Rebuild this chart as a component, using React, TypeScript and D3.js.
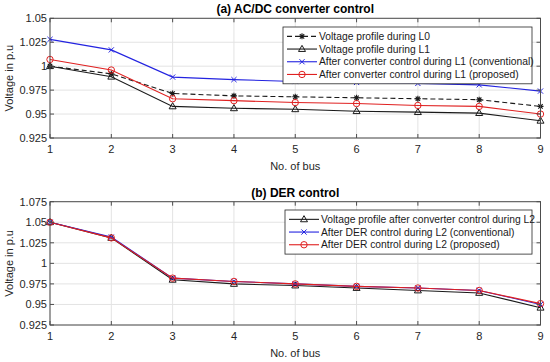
import React from 'react';
import * as d3 from 'd3';

const buses = [1, 2, 3, 4, 5, 6, 7, 8, 9];

// (a) AC/DC converter control
const l0 = [1.0, 0.992, 0.9715, 0.969, 0.968, 0.967, 0.966, 0.965, 0.958];
const l1 = [1.0, 0.989, 0.958, 0.956, 0.955, 0.953, 0.952, 0.951, 0.943];
const convConventional = [1.028, 1.017, 0.9886, 0.986, 0.984, 0.983, 0.982, 0.9805, 0.974];
const convProposed = [1.007, 0.996, 0.966, 0.964, 0.962, 0.961, 0.959, 0.958, 0.950];

// (b) DER control
const afterConverterL2 = [1.05, 1.031, 0.980, 0.975, 0.973, 0.970, 0.967, 0.964, 0.946];
const derConventional = [1.05, 1.032, 0.982, 0.978, 0.975, 0.972, 0.970, 0.967, 0.950];
const derProposed = [1.05, 1.031, 0.982, 0.978, 0.975, 0.972, 0.970, 0.967, 0.951];

const ticksA = [0.925, 0.95, 0.975, 1, 1.025, 1.05];
const ticksB = [0.925, 0.95, 0.975, 1, 1.025, 1.05, 1.075];

const FONT = '"Liberation Sans", Arial, Helvetica, sans-serif';
const tickFmt = (v: number) => String(+v.toFixed(3));

type Marker = 'star' | 'tri' | 'x' | 'o';
interface Series { name: string; values: number[]; color: string; dash?: string; marker: Marker; }

const seriesA: Series[] = [
  { name: 'Voltage profile during L0', values: l0, color: '#1a1a1a', dash: '5,3', marker: 'star' },
  { name: 'Voltage profile during L1', values: l1, color: '#1a1a1a', marker: 'tri' },
  { name: 'After converter control during L1 (conventional)', values: convConventional, color: '#2323e0', marker: 'x' },
  { name: 'After converter control during L1 (proposed)', values: convProposed, color: '#e02020', marker: 'o' },
];

const seriesB: Series[] = [
  { name: 'Voltage profile after converter control during L2', values: afterConverterL2, color: '#1a1a1a', marker: 'tri' },
  { name: 'After DER control during L2 (conventional)', values: derConventional, color: '#2323e0', marker: 'x' },
  { name: 'After DER control during L2 (proposed)', values: derProposed, color: '#e02020', marker: 'o' },
];

function MarkerShape({ type, x, y, color }: { type: Marker; x: number; y: number; color: string }) {
  const r = 3.2;
  if (type === 'o') return <circle cx={x} cy={y} r={r} fill="none" stroke={color} strokeWidth={1} />;
  if (type === 'tri') {
    const p = `${x},${y - r - 0.5} ${x - r - 0.3},${y + r - 0.8} ${x + r + 0.3},${y + r - 0.8}`;
    return <polygon points={p} fill="none" stroke={color} strokeWidth={1} />;
  }
  if (type === 'x') {
    return (
      <path d={`M${x - 2.6},${y - 2.6}L${x + 2.6},${y + 2.6}M${x - 2.6},${y + 2.6}L${x + 2.6},${y - 2.6}`} stroke={color} strokeWidth={1} />
    );
  }
  return (
    <path
      d={`M${x - 3},${y}L${x + 3},${y}M${x},${y - 3}L${x},${y + 3}M${x - 2.2},${y - 2.2}L${x + 2.2},${y + 2.2}M${x - 2.2},${y + 2.2}L${x + 2.2},${y - 2.2}`}
      stroke={color}
      strokeWidth={1.1}
    />
  );
}

interface PanelProps {
  title: string;
  top: number;
  bottom: number;
  yTicks: number[];
  series: Series[];
  legend: { x: number; y: number; w: number; rowH: number };
}

function Panel({ title, top, bottom, yTicks, series, legend }: PanelProps) {
  const left = 50;
  const right = 540.5;
  const x = d3.scaleLinear().domain([1, 9]).range([left, right]);
  const y = d3.scaleLinear().domain([yTicks[0], yTicks[yTicks.length - 1]]).range([bottom, top]);
  const line = d3.line<number>().x((_, i) => x(buses[i])).y(v => y(v));
  const axisColor = '#4d4d4d';
  const legendH = legend.rowH * series.length + 6;

  return (
    <g>
      <rect x={left} y={top} width={right - left} height={bottom - top} fill="#fff" />
      {buses.map(b => (
        <line key={'gx' + b} x1={x(b)} x2={x(b)} y1={top} y2={bottom} stroke="#e3e3e3" strokeWidth={1} />
      ))}
      {yTicks.map(t => (
        <line key={'gy' + t} x1={left} x2={right} y1={y(t)} y2={y(t)} stroke="#e3e3e3" strokeWidth={1} />
      ))}
      {series.map(s => (
        <g key={s.name}>
          <path d={line(s.values) || ''} fill="none" stroke={s.color} strokeWidth={1.1} strokeDasharray={s.dash} />
          {s.values.map((v, i) => (
            <MarkerShape key={i} type={s.marker} x={x(buses[i])} y={y(v)} color={s.color} />
          ))}
        </g>
      ))}
      <rect x={left} y={top} width={right - left} height={bottom - top} fill="none" stroke={axisColor} strokeWidth={1} />
      {buses.map(b => (
        <g key={'tx' + b}>
          <line x1={x(b)} x2={x(b)} y1={bottom} y2={bottom - 4} stroke={axisColor} />
          <line x1={x(b)} x2={x(b)} y1={top} y2={top + 4} stroke={axisColor} />
          <text x={x(b)} y={bottom + 15} textAnchor="middle" fontSize={11} fill="#262626" fontFamily={FONT}>{b}</text>
        </g>
      ))}
      {yTicks.map(t => (
        <g key={'ty' + t}>
          <line x1={left} x2={left + 4} y1={y(t)} y2={y(t)} stroke={axisColor} />
          <line x1={right} x2={right - 4} y1={y(t)} y2={y(t)} stroke={axisColor} />
          <text x={left - 3} y={y(t) + 4} textAnchor="end" fontSize={11} fill="#262626" fontFamily={FONT}>{tickFmt(t)}</text>
        </g>
      ))}
      <text x={(left + right) / 2} y={top - 5} textAnchor="middle" fontSize={12} fontWeight="bold" fill="#000" fontFamily={FONT}>{title}</text>
      <text x={(left + right) / 2} y={bottom + 32} textAnchor="middle" fontSize={11} fill="#262626" fontFamily={FONT}>No. of bus</text>
      <text
        transform={`translate(13,${(top + bottom) / 2}) rotate(-90)`}
        textAnchor="middle"
        fontSize={11}
        fill="#262626"
        fontFamily={FONT}
      >
        Voltage in p.u
      </text>
      <g>
        <rect x={legend.x} y={legend.y} width={legend.w} height={legendH} fill="#fff" stroke="#262626" strokeWidth={0.8} />
        {series.map((s, i) => {
          const cy = legend.y + 3 + legend.rowH * (i + 0.5);
          return (
            <g key={'lg' + i}>
              <line x1={legend.x + 4} x2={legend.x + 34} y1={cy} y2={cy} stroke={s.color} strokeWidth={1.1} strokeDasharray={s.dash} />
              <MarkerShape type={s.marker} x={legend.x + 19} y={cy} color={s.color} />
              <text x={legend.x + 36} y={cy + 3.7} fontSize={10.3} fill="#1a1a1a" fontFamily={FONT}>{s.name}</text>
            </g>
          );
        })}
      </g>
    </g>
  );
}

export default function App() {
  return (
    <svg width={550} height={362} style={{ position: 'absolute', left: 0, top: 0, background: '#fff' }}>
      <rect width={550} height={362} fill="#fff" />
      <Panel
        title="(a) AC/DC converter control"
        top={18.3}
        bottom={138}
        yTicks={ticksA}
        series={seriesA}
        legend={{ x: 283, y: 27, w: 249, rowH: 12.7 }}
      />
      <Panel
        title="(b) DER control"
        top={201.7}
        bottom={325}
        yTicks={ticksB}
        series={seriesB}
        legend={{ x: 285, y: 210, w: 247, rowH: 12.7 }}
      />
    </svg>
  );
}
